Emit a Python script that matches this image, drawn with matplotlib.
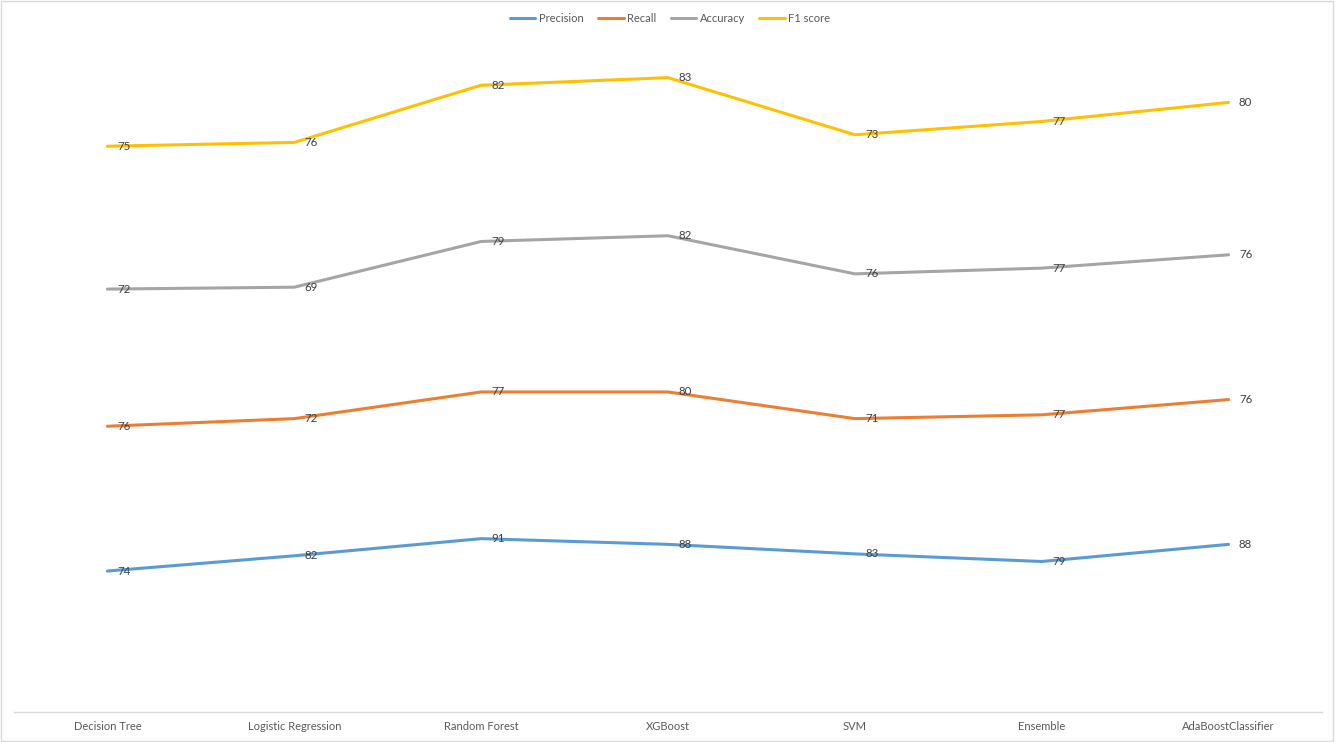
import numpy as np
import matplotlib
matplotlib.use("Agg")
import matplotlib.pyplot as plt
from matplotlib.patches import Rectangle

# model names on the category axis
models = ["Decision Tree", "Logistic Regression", "Random Forest", "XGBoost",
          "SVM", "Ensemble", "AdaBoostClassifier"]

# scores per metric (stacked line chart, labels show the raw values)
precision = [74, 82, 91, 88, 83, 79, 88]
recall = [76, 72, 77, 80, 71, 77, 76]
accuracy = [72, 69, 79, 82, 76, 77, 76]
f1_score = [75, 76, 82, 83, 73, 77, 80]

series = [
    ("Precision", precision, "#5B9BD5"),
    ("Recall", recall, "#ED7D31"),
    ("Accuracy", accuracy, "#A5A5A5"),
    ("F1 score", f1_score, "#FFC000"),
]

plt.rcParams["font.family"] = ["Lato", "DejaVu Sans"]
FS = 8.0

W, H = 1336, 742
fig = plt.figure(figsize=(W / 100, H / 100), dpi=100)

# plot area in pixel terms
left_px, right_px = 14, 1322
bottom_px = 712
ymax = 350
px_per_unit = 1.905
ax = fig.add_axes([left_px / W, (H - bottom_px) / H,
                   (right_px - left_px) / W, ymax * px_per_unit / H])

x = np.arange(len(models))
running = np.zeros(len(models))
for name, vals, color in series:
    running = running + np.array(vals)
    ax.plot(x, running, color=color, lw=2.2, label=name,
            solid_capstyle="round", solid_joinstyle="round")
    for xi, yi, v in zip(x, running, vals):
        ax.annotate(str(v), (xi, yi), xytext=(7.5, 0), textcoords="offset points",
                    ha="left", va="center", fontsize=FS + 0.3, color="#404040")

ax.set_xlim(-0.5, len(models) - 0.5)
ax.set_ylim(0, ymax)
ax.set_xticks(x)
ax.set_xticklabels(models, fontsize=FS, color="#595959")
ax.tick_params(axis="x", length=0, pad=6.8)
ax.set_yticks([])
for side in ["top", "left", "right"]:
    ax.spines[side].set_visible(False)
ax.spines["bottom"].set_color("#D9D9D9")
ax.spines["bottom"].set_linewidth(1)

fig.legend(loc="center", bbox_to_anchor=(670 / W, 1 - 18 / H), ncol=4,
           frameon=False, fontsize=FS, handlelength=2.3, handletextpad=0.3,
           columnspacing=1.3, labelcolor="#595959")

# chart border
fig.patches.append(Rectangle((0.5 / W, 1.5 / H), 1332 / W, 739.5 / H,
                             transform=fig.transFigure, fill=False,
                             edgecolor="#D9D9D9", lw=1))

fig.savefig("out.png", dpi=100)
